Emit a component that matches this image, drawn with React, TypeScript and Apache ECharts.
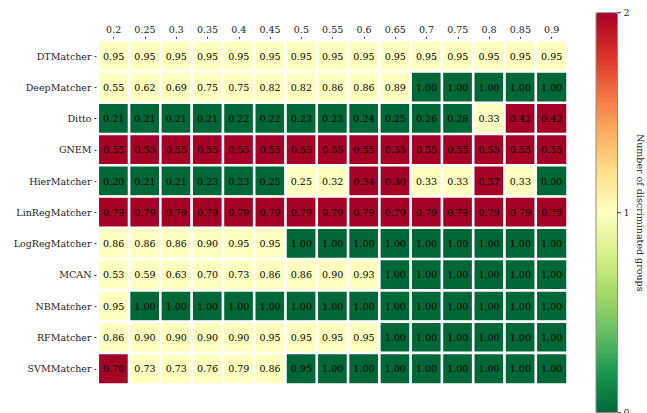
import React, { useEffect, useRef } from "react";
import * as echarts from "echarts";

const thresholds = ["0.2", "0.25", "0.3", "0.35", "0.4", "0.45", "0.5", "0.55", "0.6", "0.65", "0.7", "0.75", "0.8", "0.85", "0.9"];
const matchers = ["DTMatcher", "DeepMatcher", "Ditto", "GNEM", "HierMatcher", "LinRegMatcher", "LogRegMatcher", "MCAN", "NBMatcher", "RFMatcher", "SVMMatcher"];

// annotated scores per matcher (one value per threshold)
const scores: number[][] = [
  [0.95, 0.95, 0.95, 0.95, 0.95, 0.95, 0.95, 0.95, 0.95, 0.95, 0.95, 0.95, 0.95, 0.95, 0.95],
  [0.55, 0.62, 0.69, 0.75, 0.75, 0.82, 0.82, 0.86, 0.86, 0.89, 1.0, 1.0, 1.0, 1.0, 1.0],
  [0.21, 0.21, 0.21, 0.21, 0.22, 0.22, 0.23, 0.23, 0.24, 0.25, 0.26, 0.28, 0.33, 0.42, 0.42],
  [0.55, 0.55, 0.55, 0.55, 0.55, 0.55, 0.55, 0.55, 0.55, 0.55, 0.55, 0.55, 0.55, 0.55, 0.55],
  [0.2, 0.21, 0.21, 0.23, 0.23, 0.25, 0.25, 0.32, 0.34, 0.3, 0.33, 0.33, 0.57, 0.33, 0.0],
  [0.79, 0.79, 0.79, 0.79, 0.79, 0.79, 0.79, 0.79, 0.79, 0.79, 0.79, 0.79, 0.79, 0.79, 0.79],
  [0.86, 0.86, 0.86, 0.9, 0.95, 0.95, 1.0, 1.0, 1.0, 1.0, 1.0, 1.0, 1.0, 1.0, 1.0],
  [0.53, 0.59, 0.63, 0.7, 0.73, 0.86, 0.86, 0.9, 0.93, 1.0, 1.0, 1.0, 1.0, 1.0, 1.0],
  [0.95, 1.0, 1.0, 1.0, 1.0, 1.0, 1.0, 1.0, 1.0, 1.0, 1.0, 1.0, 1.0, 1.0, 1.0],
  [0.86, 0.9, 0.9, 0.9, 0.9, 0.95, 0.95, 0.95, 0.95, 1.0, 1.0, 1.0, 1.0, 1.0, 1.0],
  [0.7, 0.73, 0.73, 0.76, 0.79, 0.86, 0.95, 1.0, 1.0, 1.0, 1.0, 1.0, 1.0, 1.0, 1.0],
];

// number of discriminated groups (drives the colour)
const groups: number[][] = [
  [1, 1, 1, 1, 1, 1, 1, 1, 1, 1, 1, 1, 1, 1, 1],
  [1, 1, 1, 1, 1, 1, 1, 1, 1, 1, 0, 0, 0, 0, 0],
  [0, 0, 0, 0, 0, 0, 0, 0, 0, 0, 0, 0, 1, 2, 2],
  [2, 2, 2, 2, 2, 2, 2, 2, 2, 2, 2, 2, 2, 2, 2],
  [0, 0, 0, 0, 0, 0, 1, 1, 2, 2, 1, 1, 2, 1, 0],
  [2, 2, 2, 2, 2, 2, 2, 2, 2, 2, 2, 2, 2, 2, 2],
  [1, 1, 1, 1, 1, 1, 0, 0, 0, 0, 0, 0, 0, 0, 0],
  [1, 1, 1, 1, 1, 1, 1, 1, 1, 0, 0, 0, 0, 0, 0],
  [1, 0, 0, 0, 0, 0, 0, 0, 0, 0, 0, 0, 0, 0, 0],
  [1, 1, 1, 1, 1, 1, 1, 1, 1, 0, 0, 0, 0, 0, 0],
  [2, 1, 1, 1, 1, 1, 0, 0, 0, 0, 0, 0, 0, 0, 0],
];

const colorbarTicks = [0, 1, 2];
const colorbarTitle = "Number of discriminated groups";

const RdYlGn_r = ["#006837", "#1a9850", "#66bd63", "#a6d96a", "#d9ef8b", "#ffffbf", "#fee08b", "#fdae61", "#f46d43", "#d73027", "#a50026"];

const FONT = "DejaVu Serif";

export default function App() {
  const ref = useRef<HTMLDivElement>(null);
  useEffect(() => {
    if (!ref.current) return;
    const chart = echarts.init(ref.current, undefined, { renderer: "svg" });
    const data: any[] = [];
    matchers.forEach((_, r) => {
      thresholds.forEach((_, c) => {
        data.push([c, r, groups[r][c], scores[r][c]]);
      });
    });
    const cbLeft = 596;
    const cbTop = 12.7;
    const cbW = 21.5;
    const cbH = 400;
    const vmin = 0, vmax = 2;
    const graphics: any[] = [
      {
        type: "rect",
        shape: { x: cbLeft, y: cbTop, width: cbW, height: cbH },
        style: { fill: "none", stroke: "#8c8c8c", lineWidth: 1 },
        z: 100,
      },
      {
        type: "text",
        x: 640,
        y: cbTop + cbH / 2,
        rotation: -Math.PI / 2,
        style: {
          text: colorbarTitle,
          fontFamily: FONT,
          fontSize: 9.5,
          fill: "#222",
          align: "center",
          verticalAlign: "middle",
        },
        z: 100,
      },
    ];
    colorbarTicks.forEach((t) => {
      const y = cbTop + cbH - ((t - vmin) / (vmax - vmin)) * cbH;
      graphics.push({
        type: "line",
        shape: { x1: cbLeft + cbW, y1: y, x2: cbLeft + cbW + 3.5, y2: y },
        style: { stroke: "#333", lineWidth: 1 },
        z: 100,
      });
      graphics.push({
        type: "text",
        x: cbLeft + cbW + 6,
        y: y,
        style: {
          text: String(t),
          fontFamily: FONT,
          fontSize: 9.5,
          fill: "#222",
          align: "left",
          verticalAlign: "middle",
        },
        z: 100,
      });
    });

    chart.setOption({
      animation: false,
      backgroundColor: "#fff",
      grid: { left: 98, right: 79.7, top: 40.4, bottom: 28.6, containLabel: false },
      xAxis: {
        type: "category",
        data: thresholds,
        position: "top",
        axisLine: { show: false },
        axisTick: { show: true, alignWithLabel: true, length: 3.5, lineStyle: { color: "#333" } },
        axisLabel: { fontFamily: FONT, fontSize: 9.5, color: "#222", margin: 6, interval: 0 },
        splitLine: { show: false },
        splitArea: { show: false },
      },
      yAxis: {
        type: "category",
        data: matchers,
        inverse: true,
        axisLine: { show: false },
        axisTick: { show: true, alignWithLabel: true, length: 3.5, lineStyle: { color: "#333" } },
        axisLabel: { fontFamily: FONT, fontSize: 9.5, color: "#222", margin: 6.5, interval: 0 },
        splitLine: { show: false },
        splitArea: { show: false },
      },
      visualMap: {
        type: "continuous",
        min: vmin,
        max: vmax,
        dimension: 2,
        seriesIndex: 0,
        orient: "vertical",
        left: cbLeft,
        top: cbTop,
        padding: 0,
        itemWidth: cbW,
        itemHeight: cbH,
        calculable: false,
        hoverLink: false,
        showLabel: false,
        inRange: { color: RdYlGn_r },
      },
      series: [
        {
          type: "heatmap",
          data,
          itemStyle: { borderColor: "#fff", borderWidth: 2.6 },
          label: {
            show: true,
            fontFamily: FONT,
            fontSize: 9.5,
            color: "#000",
            formatter: (p: any) => Number(p.value[3]).toFixed(2),
          },
          emphasis: { disabled: true },
        },
      ],
      graphic: graphics,
    });
    return () => chart.dispose();
  }, []);
  return <div ref={ref} style={{ width: 647, height: 413, position: "absolute", left: 0, top: 0 }} />;
}
